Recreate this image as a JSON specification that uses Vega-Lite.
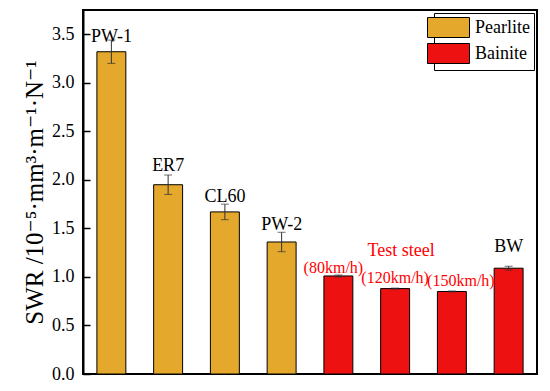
{
  "$schema": "https://vega.github.io/schema/vega-lite/v6.json",
  "width": 454,
  "height": 364,
  "autosize": {"type": "none"},
  "padding": {"left": 83, "top": 10, "right": 13, "bottom": 17},
  "config": {"font": "Liberation Serif, Times New Roman, DejaVu Serif, serif", "view": {"stroke": "black", "strokeWidth": 2}},
  "datasets": {
    "bars": [
      {"cat": "PW-1", "group": "Pearlite", "value": 3.32, "err": 0.12},
      {"cat": "ER7", "group": "Pearlite", "value": 1.95, "err": 0.1},
      {"cat": "CL60", "group": "Pearlite", "value": 1.67, "err": 0.08},
      {"cat": "PW-2", "group": "Pearlite", "value": 1.36, "err": 0.1},
      {"cat": "80km/h", "group": "Bainite", "value": 1.01, "err": 0.01},
      {"cat": "120km/h", "group": "Bainite", "value": 0.88, "err": 0.005},
      {"cat": "150km/h", "group": "Bainite", "value": 0.85, "err": 0.005},
      {"cat": "BW", "group": "Bainite", "value": 1.09, "err": 0.02}
    ],
    "labels": [
      {"cat": "PW-1", "text": "PW-1", "ty": 3.42},
      {"cat": "ER7", "text": "ER7", "ty": 2.09},
      {"cat": "CL60", "text": "CL60", "ty": 1.77},
      {"cat": "PW-2", "text": "PW-2", "ty": 1.48},
      {"cat": "BW", "text": "BW", "ty": 1.26}
    ],
    "notes": [
      {"cat": "80km/h", "text": "(80km/h)", "ty": 1.04},
      {"cat": "120km/h", "text": "(120km/h)", "ty": 0.94},
      {"cat": "150km/h", "text": "(150km/h)", "ty": 0.91},
      {"cat": "120km/h", "text": "Test steel", "ty": 1.215}
    ]
  },
  "encoding": {
    "x": {
      "field": "cat", "type": "nominal", "sort": ["PW-1", "ER7", "CL60", "PW-2", "80km/h", "120km/h", "150km/h", "BW"],
      "scale": {"domain": ["PW-1", "ER7", "CL60", "PW-2", "80km/h", "120km/h", "150km/h", "BW"], "paddingInner": 0.49, "paddingOuter": 0.245},
      "axis": null
    }
  },
  "layer": [
    {
      "data": {"name": "bars"},
      "mark": {"type": "bar", "stroke": "black", "strokeWidth": 1},
      "encoding": {
        "y": {
          "field": "value", "type": "quantitative",
          "scale": {"domain": [0, 3.75], "nice": false},
          "axis": {
            "title": "SWR /10⁻⁵·mm³·m⁻¹·N⁻¹",
            "values": [0, 0.25, 0.5, 0.75, 1, 1.25, 1.5, 1.75, 2, 2.25, 2.5, 2.75, 3, 3.25, 3.5],
            "labelExpr": "(datum.value*4)%2==0 ? format(datum.value,'.1f') : ''",
            "labelOverlap": false,
            "tickSize": {"condition": {"test": "(datum.value*4)%2==0", "value": -7}, "value": -4},
            "grid": false,
            "domainColor": "black", "domainWidth": 2,
            "tickColor": "black", "tickWidth": 1.5,
            "labelFontSize": 18, "labelColor": "black", "labelPadding": 16,
            "titleFontSize": 25, "titleFontWeight": "normal", "titleColor": "black", "titlePadding": 4
          }
        },
        "fill": {
          "field": "group", "type": "nominal",
          "scale": {"domain": ["Pearlite", "Bainite"], "range": ["#E3A82C", "#EE1111"]},
          "legend": {
            "orient": "top-right", "offset": 3, "title": null,
            "strokeColor": "black", "padding": 4, "fillColor": "white",
            "symbolType": "M-2.1,-1H2.1V1H-2.1Z", "symbolSize": 400,
            "symbolStrokeColor": "black", "symbolStrokeWidth": 1,
            "labelFontSize": 18, "labelColor": "black", "labelOffset": 16,
            "rowPadding": 1
          }
        }
      }
    },
    {
      "data": {"name": "bars"},
      "transform": [
        {"calculate": "datum.value - datum.err", "as": "lo"},
        {"calculate": "datum.value + datum.err", "as": "hi"}
      ],
      "layer": [
        {"mark": {"type": "rule", "color": "#333333", "strokeWidth": 1}, "encoding": {"y": {"field": "lo", "type": "quantitative"}, "y2": {"field": "hi"}}},
        {"mark": {"type": "tick", "color": "#333333", "thickness": 1, "size": 8}, "encoding": {"y": {"field": "lo", "type": "quantitative"}}},
        {"mark": {"type": "tick", "color": "#333333", "thickness": 1, "size": 8}, "encoding": {"y": {"field": "hi", "type": "quantitative"}}}
      ]
    },
    {
      "data": {"name": "labels"},
      "mark": {"type": "text", "baseline": "alphabetic", "align": "center", "fontSize": 18, "color": "black"},
      "encoding": {
        "y": {"field": "ty", "type": "quantitative"},
        "text": {"field": "text"}
      }
    },
    {
      "data": {"name": "notes"},
      "transform": [{"filter": "datum.text == '(80km/h)'"}],
      "mark": {"type": "text", "baseline": "alphabetic", "align": "center", "fontSize": 16, "color": "#FF0000", "dx": -5},
      "encoding": {"y": {"field": "ty", "type": "quantitative"}, "text": {"field": "text"}}
    },
    {
      "data": {"name": "notes"},
      "transform": [{"filter": "datum.text == '(120km/h)'"}],
      "mark": {"type": "text", "baseline": "alphabetic", "align": "center", "fontSize": 16, "color": "#FF0000"},
      "encoding": {"y": {"field": "ty", "type": "quantitative"}, "text": {"field": "text"}}
    },
    {
      "data": {"name": "notes"},
      "transform": [{"filter": "datum.text == '(150km/h)'"}],
      "mark": {"type": "text", "baseline": "alphabetic", "align": "center", "fontSize": 16, "color": "#FF0000", "dx": 9},
      "encoding": {"y": {"field": "ty", "type": "quantitative"}, "text": {"field": "text"}}
    },
    {
      "data": {"name": "notes"},
      "transform": [{"filter": "datum.text == 'Test steel'"}],
      "mark": {"type": "text", "baseline": "alphabetic", "align": "center", "fontSize": 18, "color": "#FF0000", "dx": 6},
      "encoding": {"y": {"field": "ty", "type": "quantitative"}, "text": {"field": "text"}}
    }
  ]
}
